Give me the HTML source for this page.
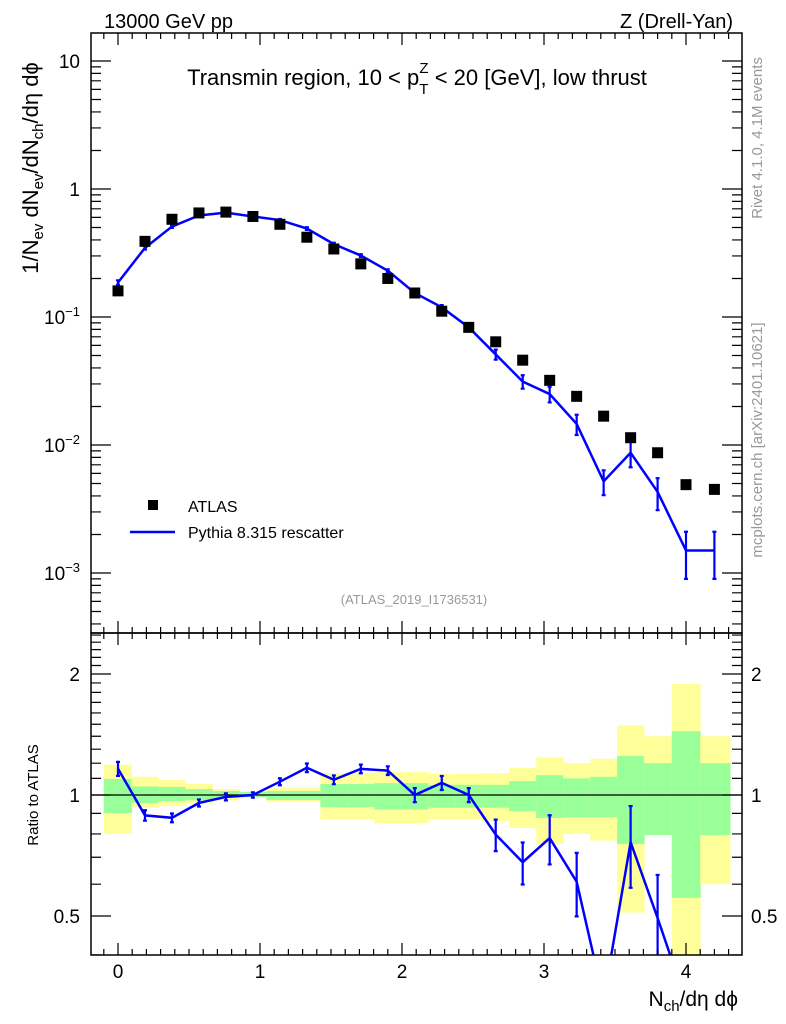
<!DOCTYPE html>
<html><head><meta charset="utf-8">
<style>
html,body{margin:0;padding:0;background:#fff;width:786px;height:1024px;overflow:hidden;}
svg{display:block;font-family:"Liberation Sans",sans-serif;}
</style></head>
<body>
<svg id="chart" width="786" height="1024" viewBox="0 0 786 1024" xmlns="http://www.w3.org/2000/svg">
<text x="104" y="28" font-size="20">13000 GeV pp</text>
<text x="733" y="28" font-size="20" text-anchor="end">Z (Drell-Yan)</text>
<text x="417" y="85" font-size="22" text-anchor="middle">Transmin region, 10 &lt; p<tspan font-size="15" dy="9">T</tspan><tspan font-size="15" dx="-9" dy="-21">Z</tspan><tspan dy="12"> &lt; 20 [GeV], low thrust</tspan></text>
<text transform="translate(762,138) rotate(-90)" font-size="15" fill="#999" text-anchor="middle">Rivet 4.1.0,  4.1M events</text>
<text transform="translate(762,440) rotate(-90)" font-size="15" fill="#999" text-anchor="middle">mcplots.cern.ch [arXiv:2401.10621]</text>
<text transform="translate(38,168) rotate(-90)" font-size="22" text-anchor="middle">1/N<tspan font-size="15" dy="5">ev</tspan><tspan dy="-5"> dN</tspan><tspan font-size="15" dy="5">ev</tspan><tspan dy="-5">/dN</tspan><tspan font-size="15" dy="5">ch</tspan><tspan dy="-5">/dη dϕ</tspan></text>
<text transform="translate(38,795) rotate(-90)" font-size="15" text-anchor="middle">Ratio to ATLAS</text>
<text x="738" y="1006" font-size="21" text-anchor="end">N<tspan font-size="15" dy="5">ch</tspan><tspan dy="-5">/dη dϕ</tspan></text>
<text x="414" y="604" font-size="13" fill="#999" text-anchor="middle">(ATLAS_2019_I1736531)</text>
<g id="bands"></g><g id="ratio"></g><g id="main"></g><g id="axes"></g>
<g>
<rect x="148" y="500" width="10" height="10" fill="#000"/>
<text x="188" y="512" font-size="16">ATLAS</text>
<line x1="130" y1="532" x2="175" y2="532" stroke="#00f" stroke-width="2.5"/>
<text x="188" y="538" font-size="16">Pythia 8.315 rescatter</text>
</g>
</svg>
<script>
const xs=[0,0.19,0.38,0.57,0.76,0.95,1.14,1.33,1.52,1.71,1.9,2.09,2.28,2.47,2.66,2.85,3.04,3.23,3.42,3.61,3.8,4.0,4.2];
const dataVals=[0.16,0.39,0.58,0.65,0.66,0.61,0.53,0.42,0.34,0.26,0.20,0.154,0.111,0.083,0.064,0.046,0.032,0.024,0.0168,0.0114,0.0087,0.0049,0.0045];
const mcVals=[0.186,0.347,0.509,0.621,0.653,0.61,0.572,0.491,0.371,0.302,0.23,0.154,0.119,0.083,0.051,0.0313,0.025,0.0146,0.0052,0.0087,0.0043,0.0015,0.0015];
const mcRelErr=[0.04,0.03,0.025,0.02,0.02,0.015,0.02,0.025,0.025,0.025,0.025,0.04,0.04,0.04,0.09,0.12,0.14,0.18,0.22,0.23,0.28,0.40,0.40];
const yelHi=[1.19,1.11,1.09,1.065,1.035,1.023,1.04,1.04,1.134,1.134,1.14,1.14,1.128,1.13,1.134,1.167,1.24,1.20,1.23,1.49,1.40,1.89,1.40];
const yelLo=[0.80,0.93,0.94,0.955,0.97,0.983,0.96,0.96,0.87,0.87,0.85,0.85,0.87,0.87,0.862,0.828,0.755,0.80,0.77,0.51,0.795,0.30,0.60];
const grnHi=[1.096,1.05,1.047,1.035,1.023,1.017,1.023,1.023,1.065,1.065,1.07,1.07,1.06,1.06,1.06,1.083,1.12,1.10,1.11,1.25,1.20,1.44,1.20];
const grnLo=[0.902,0.955,0.966,0.97,0.983,0.989,0.972,0.972,0.933,0.933,0.92,0.92,0.93,0.93,0.93,0.912,0.877,0.88,0.88,0.755,0.795,0.555,0.795];
const xTicks=[0,1,2,3,4];
const mainTicks=[10,1,0.1,0.01,0.001];
const mainTickLabels=["10","1","10<tspan font-size='13' dy='-8'>−1</tspan>","10<tspan font-size='13' dy='-8'>−2</tspan>","10<tspan font-size='13' dy='-8'>−3</tspan>"];
const ratioTicks=[0.5,1,2];

const L=91,R=742,T=33,MB=633,RB=955;
const X=v=>118+(v)*142;
const Y=v=>61-128*(Math.log10(v)-1);
const RY=v=>795-121*Math.log2(v);
const NS="http://www.w3.org/2000/svg";
function mk(parent,tag,attrs){const e=document.createElementNS(NS,tag);for(const k in attrs)e.setAttribute(k,attrs[k]);document.getElementById(parent).appendChild(e);return e;}

const defs=mk('chart','defs',{});
defs.innerHTML='<clipPath id="cm"><rect x="91" y="33" width="651" height="600"/></clipPath><clipPath id="cr"><rect x="91" y="633" width="651" height="322"/></clipPath>';
document.getElementById('main').setAttribute('clip-path','url(#cm)');
document.getElementById('ratio').setAttribute('clip-path','url(#cr)');
document.getElementById('bands').setAttribute('clip-path','url(#cr)');

const edges=[];
for(let i=0;i<xs.length;i++){const lo=i==0?-0.1:(xs[i-1]+xs[i])/2;const hi=i==xs.length-1?4.31:(xs[i]+xs[i+1])/2;edges.push([lo,hi]);}
for(let i=0;i<xs.length;i++){
 const [a,b]=edges[i];
 const y=mk('bands','rect',{x:X(a),y:RY(yelHi[i]),width:X(b)-X(a)+0.5,height:RY(yelLo[i])-RY(yelHi[i]),fill:'#ffff99'});
 
 
 const g=mk('bands','rect',{x:X(a),y:RY(grnHi[i]),width:X(b)-X(a)+0.5,height:RY(grnLo[i])-RY(grnHi[i]),fill:'#99ff99'});
 
 
}
const one=mk('ratio','line',{x1:L,x2:R,y1:RY(1),y2:RY(1),stroke:'#000','stroke-width':1.2});



let rp='';
for(let i=0;i<xs.length;i++){const r=mcVals[i]/dataVals[i];rp+=(i?'L':'M')+X(xs[i])+','+RY(r);}
const rl=mk('ratio','path',{d:rp,fill:'none',stroke:'#00f','stroke-width':2.5});


for(let i=0;i<xs.length;i++){
 const r=mcVals[i]/dataVals[i],e=mcRelErr[i];
 if(RY(r)>RB) continue;
 const x=X(xs[i]),y1=RY(r*(1+e)),y2=RY(r*(1-e));
 const eb=mk('ratio','path',{d:`M${x},${y1}L${x},${y2}M${x-2},${y1}L${x+2},${y1}M${x-2},${y2}L${x+2},${y2}`,stroke:'#00f','stroke-width':2.2,fill:'none'});
 
 
}

let mp='';
for(let i=0;i<xs.length;i++){mp+=(i?'L':'M')+X(xs[i])+','+Y(mcVals[i]);}
const ml=mk('main','path',{d:mp,fill:'none',stroke:'#00f','stroke-width':2.5});


for(let i=0;i<xs.length;i++){
 const v=mcVals[i],e=mcRelErr[i];
 const x=X(xs[i]),y1=Y(v*(1+e)),y2=Y(v*(1-e));
 const eb=mk('main','path',{d:`M${x},${y1}L${x},${y2}M${x-2},${y1}L${x+2},${y1}M${x-2},${y2}L${x+2},${y2}`,stroke:'#00f','stroke-width':2.2,fill:'none'});
 
 
}
for(let i=0;i<xs.length;i++){
 const s=mk('main','rect',{x:X(xs[i])-5.5,y:Y(dataVals[i])-5.5,width:11,height:11,fill:'#000'});
 
 
}

let d='';
function tick(x1,y1,x2,y2){d+=`M${x1},${y1}L${x2},${y2}`;}
for(let k=-1;k<=43;k++){const v=k/10;const x=X(v);if(x<L||x>R)continue;const len=(k%10==0)?12:6;
 tick(x,T,x,T+len);tick(x,MB,x,MB-len);tick(x,MB,x,MB+len);tick(x,RB,x,RB-len);}
for(let dec=-4;dec<=1;dec++){for(let m=1;m<=9;m++){const v=m*Math.pow(10,dec);const y=Y(v);if(y<T||y>MB)continue;const len=m==1?20:10;tick(L,y,L+len,y);tick(R,y,R-len,y);}}
const rt=[0.4,0.5,0.6,0.7,0.8,0.9,1,1.1,1.2,1.3,1.4,1.5,1.6,1.7,1.8,1.9,2,2.1,2.2,2.3,2.4,2.5];
rt.forEach(v=>{const y=RY(v);if(y<MB||y>RB)return;const len=(v==0.5||v==1||v==2)?20:10;tick(L,y,L+len,y);tick(R,y,R-len,y);});
const tp=mk('axes','path',{d:d,stroke:'#000','stroke-width':1.2,fill:'none'});


const f1=mk('axes','rect',{x:L,y:T,width:R-L,height:MB-T,fill:'none',stroke:'#000','stroke-width':1.5});


const f2=mk('axes','rect',{x:L,y:MB,width:R-L,height:RB-MB,fill:'none',stroke:'#000','stroke-width':1.5});


xTicks.forEach(v=>{const t=mk('axes','text',{x:X(v),y:978,'font-size':19,'text-anchor':'middle'});t.textContent=v;
 
 });
mainTicks.forEach((v,i)=>{const t=mk('axes','text',{x:80,y:Y(v)+7,'font-size':19,'text-anchor':'end'});t.innerHTML=mainTickLabels[i];
 
 });
ratioTicks.forEach(v=>{
 const t=mk('axes','text',{x:80,y:RY(v)+7,'font-size':19,'text-anchor':'end'});t.textContent=v;
 
 
 const t2=mk('axes','text',{x:751,y:RY(v)+7,'font-size':19});t2.textContent=v;
 
 });
</script>
</body></html>
